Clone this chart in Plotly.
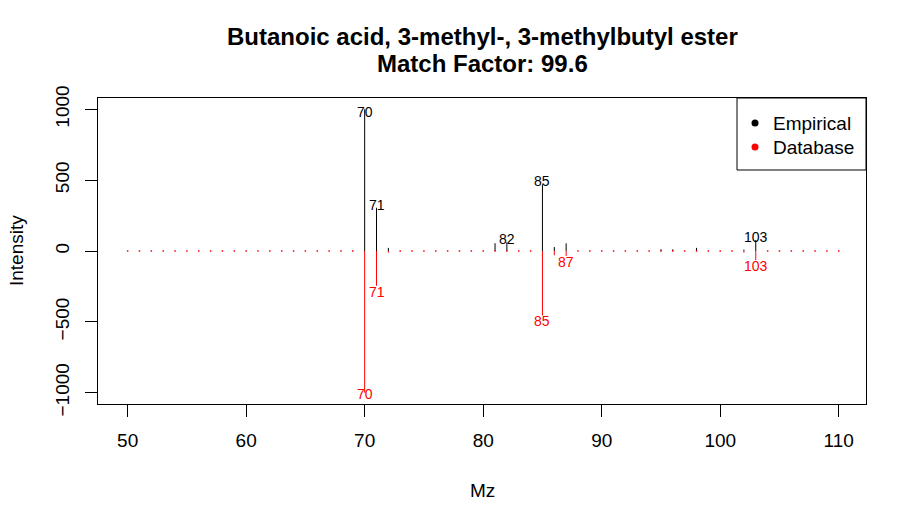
import plotly.graph_objects as go

# ---- data ----
mz = list(range(50, 111))
empirical = [0] * 20 + [1000, 305, 22, 0, 0, 0, 0, 0, 0, 0, 0, 55, 62, 0, 0, 470, 28, 54,
                        0, 0, 0, 0, 0, 0, 0, 12, 12, 0, 22, 0, 0, 0, 10, 78] + [0] * 7
database = [0] * 20 + [1000, 245, 12, 0, 0, 0, 0, 0, 0, 0, 0, 0, 0, 0, 0, 455, 30, 35,
                       0, 0, 0, 0, 0, 0, 0, 0, 0, 0, 0, 0, 0, 0, 12, 65] + [0] * 7
emp_labels = [70, 71, 82, 85, 103]
db_labels = [70, 71, 85, 87, 103]
title1 = "Butanoic acid, 3-methyl-, 3-methylbutyl ester"
title2 = "Match Factor: 99.6"
x_ticks = [50, 60, 70, 80, 90, 100, 110]
y_ticks = [-1000, -500, 0, 500, 1000]
legend_names = ["Empirical", "Database"]
legend_colors = ["black", "red"]

FONT = "Arial, Liberation Sans, sans-serif"

# plot area geometry (pixels)
L, R, T, B = 98, 52, 98, 123
W, H = 918 - L - R, 527 - T - B


def px_x(p):
    return (p - L) / W


def px_y(p):
    return (527 - B - p) / H


def sticks(xs, ys, sign):
    X, Y = [], []
    for x, y in zip(xs, ys):
        if y != 0:
            X += [x, x, None]
            Y += [0, sign * y, None]
    return X, Y


fig = go.Figure()
ex, ey = sticks(mz, empirical, 1)
dx, dy = sticks(mz, database, -1)
fig.add_trace(go.Scatter(x=ex, y=ey, mode="lines", line=dict(color="black", width=1),
                         showlegend=False, hoverinfo="skip"))
fig.add_trace(go.Scatter(x=dx, y=dy, mode="lines", line=dict(color="red", width=1),
                         showlegend=False, hoverinfo="skip"))
zx = [m for m, v in zip(mz, database) if v == 0]
fig.add_trace(go.Scatter(x=zx, y=[0] * len(zx), mode="markers",
                         marker=dict(color="red", size=1.5, symbol="square",
                                     line=dict(width=0)),
                         showlegend=False, hoverinfo="skip"))

ann = []
shapes = []
for m in emp_labels:
    v = empirical[mz.index(m)]
    ann.append(dict(x=m, y=v, xref="x", yref="y", text=str(m), showarrow=False,
                    yshift=3 if v < 900 else -3,
                    font=dict(family=FONT, size=14, color="black")))
for m in db_labels:
    v = database[mz.index(m)]
    ann.append(dict(x=m, y=-v, xref="x", yref="y", text=str(m), showarrow=False,
                    yshift=-6 if v < 900 else -1,
                    font=dict(family=FONT, size=14, color="red")))
ann.append(dict(x=0.5, y=1, xref="paper", yref="paper", text="<b>" + title1 + "</b>",
                showarrow=False, yanchor="middle", yshift=62,
                font=dict(family=FONT, size=24, color="black")))
ann.append(dict(x=0.5, y=1, xref="paper", yref="paper", text="<b>" + title2 + "</b>",
                showarrow=False, yanchor="middle", yshift=35,
                font=dict(family=FONT, size=24, color="black")))
ann.append(dict(x=0.5, y=0, xref="paper", yref="paper", text="Mz", showarrow=False,
                yanchor="middle", yshift=-86, font=dict(family=FONT, size=19, color="black")))
ann.append(dict(x=0, y=0.5, xref="paper", yref="paper", text="Intensity", showarrow=False,
                xanchor="center", xshift=-82, textangle=-90,
                font=dict(family=FONT, size=19, color="black")))

# legend box (drawn manually to match layout)
shapes.append(dict(type="rect", xref="paper", yref="paper", x0=px_x(737), x1=1,
                   y0=px_y(170), y1=1, line=dict(color="black", width=1),
                   fillcolor="white", layer="above"))
for i, (name, col) in enumerate(zip(legend_names, legend_colors)):
    cy = 123 + 24 * i
    shapes.append(dict(type="circle", xref="paper", yref="paper", xsizemode="pixel",
                       ysizemode="pixel", xanchor=px_x(755), yanchor=px_y(cy),
                       x0=-3.5, x1=3.5, y0=-3.5, y1=3.5, fillcolor=col,
                       line=dict(color=col, width=0), layer="above"))
    ann.append(dict(x=px_x(771), y=px_y(cy), xref="paper", yref="paper", text=name,
                    showarrow=False, xanchor="left", yanchor="middle",
                    font=dict(family=FONT, size=19, color="black")))

fig.update_layout(
    width=918, height=527,
    margin=dict(l=L, r=R, t=T, b=B, pad=0),
    paper_bgcolor="white", plot_bgcolor="white",
    font=dict(family=FONT, size=19, color="black"),
    annotations=ann, shapes=shapes, showlegend=False,
    xaxis=dict(range=[47.5, 112.3], tickvals=x_ticks, ticks="outside", ticklen=12,
               tickcolor="black", showgrid=False, zeroline=False, showline=True,
               linecolor="black", linewidth=1, mirror=True,
               tickfont=dict(family=FONT, size=19), ticklabelstandoff=7),
    yaxis=dict(range=[-1080, 1080], tickvals=y_ticks, ticks="outside", ticklen=12,
               tickcolor="black", showgrid=False, zeroline=False, showline=True,
               linecolor="black", linewidth=1, mirror=True, tickangle=-90,
               tickfont=dict(family=FONT, size=19), ticklabelstandoff=8),
)

fig.write_html("out.html")
